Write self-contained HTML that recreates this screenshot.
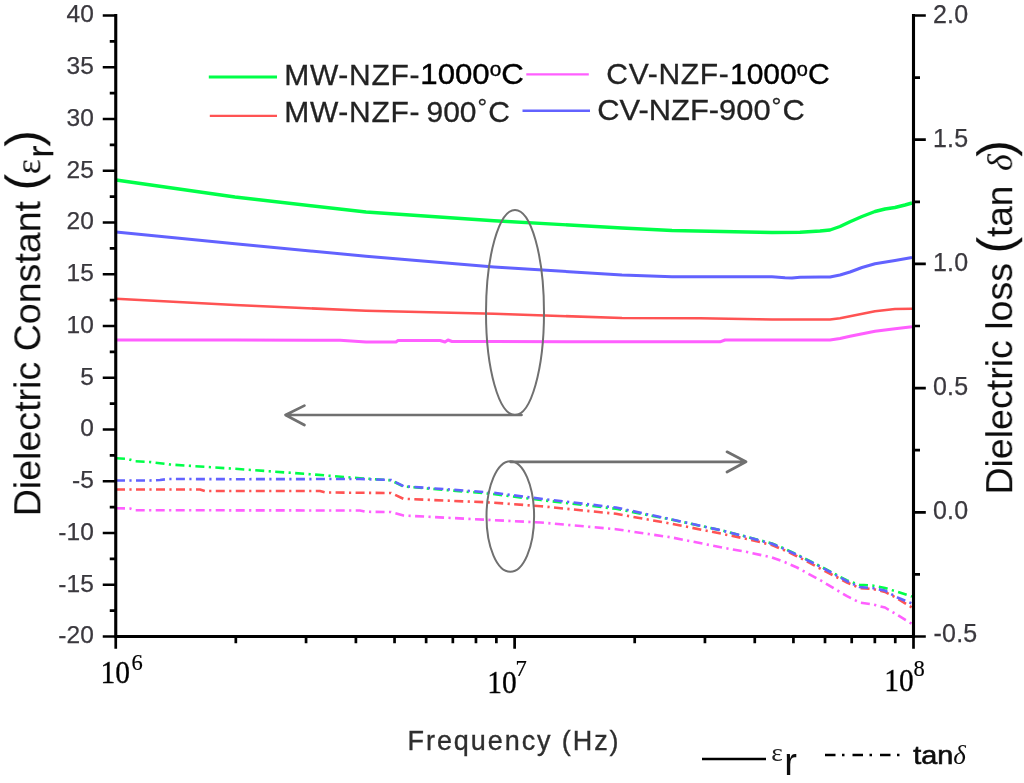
<!DOCTYPE html>
<html><head><meta charset="utf-8"><title>Dielectric constant and loss vs frequency</title>
<style>
html,body{margin:0;padding:0;background:#fff;}
body{width:1024px;height:783px;overflow:hidden;}
svg{display:block;}
.sans{font-family:"Liberation Sans",Arial,Helvetica,sans-serif;}
.serif{font-family:"Liberation Serif","Times New Roman",Times,serif;}
.tick{font-size:24.5px;fill:#3a383e;stroke:#3a383e;stroke-width:0.25px;letter-spacing:0.2px;}
</style></head><body>
<svg width="1024" height="783" viewBox="0 0 1024 783">
<rect x="0" y="0" width="1024" height="783" fill="#ffffff"/>
<defs><filter id="soft" x="-2%" y="-2%" width="104%" height="104%"><feGaussianBlur stdDeviation="0.7"/></filter></defs>
<g filter="url(#soft)">

<g fill="none" stroke-linejoin="round">
<polyline points="116.0,340.0 235.0,340.0 340.0,340.3 366.0,342.0 396.0,342.0 398.0,340.5 440.0,340.5 445.0,342.0 448.0,340.0 452.0,341.5 494.0,341.5 622.0,341.8 720.0,341.8 725.0,340.0 830.0,340.0 840.0,338.5 850.0,336.2 875.0,331.2 895.0,328.8 912.0,326.8" stroke="#ff5eff" stroke-width="3.0"/>
<polyline points="116.0,298.8 235.0,305.0 366.0,310.8 494.0,313.8 622.0,318.0 700.0,318.2 772.0,319.5 830.0,319.5 840.0,318.2 850.0,316.2 875.0,311.2 895.0,309.0 912.0,308.8" stroke="#ff5252" stroke-width="2.6"/>
<polyline points="116.0,232.0 235.0,243.8 366.0,256.2 494.0,267.0 622.0,275.0 672.0,276.8 772.0,276.8 785.0,277.8 792.0,278.0 800.0,277.3 830.0,277.0 840.0,275.0 850.0,272.0 862.0,267.5 875.0,263.8 895.0,260.5 912.0,257.5" stroke="#6262ff" stroke-width="3.0"/>
<polyline points="116.0,180.0 235.0,197.0 366.0,212.0 494.0,220.8 622.0,228.0 672.0,230.5 722.0,231.5 772.0,232.5 800.0,232.3 820.0,231.0 830.0,230.0 840.0,226.5 850.0,221.8 862.0,216.5 875.0,211.5 885.0,209.0 895.0,207.5 905.0,205.0 912.0,203.0" stroke="#00ff48" stroke-width="3.4"/>
<polyline points="116.0,508.2 130.0,508.5 135.0,510.2 360.0,510.5 366.0,511.8 391.0,512.0 403.5,515.5 491.0,520.0 541.0,522.5 616.0,529.2 672.0,537.5 722.0,547.5 747.0,552.0 772.0,557.5 784.5,562.0 797.0,567.5 822.0,581.2 847.0,596.2 859.5,602.5 872.5,604.4 885.0,607.5 897.5,615.0 912.0,624.0" stroke="#ff5eff" stroke-width="2.6" stroke-dasharray="9 4.4 2.2 4.4"/>
<polyline points="116.0,489.5 200.0,489.5 205.0,491.0 320.0,491.0 326.0,492.5 391.0,493.0 403.5,498.8 491.0,502.5 541.0,506.2 616.0,513.8 672.0,523.8 722.0,533.8 747.0,539.0 772.0,545.0 784.5,550.3 797.0,556.2 822.0,569.5 847.0,582.5 859.5,588.0 872.5,589.0 885.0,591.9 897.5,598.5 912.0,607.5" stroke="#ff5252" stroke-width="2.6" stroke-dasharray="9 4.4 2.2 4.4"/>
<polyline points="116.0,458.2 128.0,459.0 135.0,461.2 150.0,462.0 160.0,463.2 170.0,464.5 235.0,468.8 310.0,474.2 360.0,478.2 391.0,480.3 403.5,486.5 491.0,493.8 541.0,500.0 616.0,508.8 672.0,519.7 722.0,530.5 747.0,536.8 772.0,543.5 784.5,548.6 797.0,554.5 822.0,567.0 847.0,580.5 859.5,584.8 872.5,585.6 885.0,588.0 897.5,591.9 912.0,596.5" stroke="#00ff48" stroke-width="2.6" stroke-dasharray="9 4.4 2.2 4.4"/>
<polyline points="116.0,480.5 150.0,480.5 160.0,480.0 168.0,479.0 235.0,479.2 360.0,479.0 391.0,480.0 403.5,486.2 491.0,492.5 541.0,498.8 616.0,507.5 672.0,519.5 722.0,530.5 747.0,537.0 772.0,543.8 784.5,549.0 797.0,555.0 822.0,567.5 847.0,581.2 859.5,587.0 872.5,588.1 885.0,590.6 897.5,597.5 912.0,603.5" stroke="#6262ff" stroke-width="2.6" stroke-dasharray="9 4.4 2.2 4.4"/>
</g>
<g fill="none" stroke="#707070" stroke-linecap="round" stroke-linejoin="round">
<ellipse cx="515" cy="312.5" rx="29" ry="102.5" stroke-width="2"/>
<ellipse cx="510.3" cy="516.5" rx="23.8" ry="55.3" stroke-width="2"/>
<path d="M521.5 415 H286 M304.4 405.6 L285.5 415 L304.4 425" stroke-width="2.7"/>
<path d="M510.5 461.8 H745.5 M727 451.8 L746 461.8 L727 472" stroke-width="2.7"/>
</g>
<g stroke="#000" fill="none" stroke-linecap="butt">
<path d="M115.75 13.95 V638.05 M913.5 13.95 V638.05 M115.75 636.5 H913.5" stroke-width="3.1"/>
<path d="M102.75 15.50 H115.75 M109.75 41.38 H115.75 M102.75 67.25 H115.75 M109.75 93.12 H115.75 M102.75 119.00 H115.75 M109.75 144.88 H115.75 M102.75 170.75 H115.75 M109.75 196.62 H115.75 M102.75 222.50 H115.75 M109.75 248.38 H115.75 M102.75 274.25 H115.75 M109.75 300.12 H115.75 M102.75 326.00 H115.75 M109.75 351.88 H115.75 M102.75 377.75 H115.75 M109.75 403.62 H115.75 M102.75 429.50 H115.75 M109.75 455.38 H115.75 M102.75 481.25 H115.75 M109.75 507.12 H115.75 M102.75 533.00 H115.75 M109.75 558.88 H115.75 M102.75 584.75 H115.75 M109.75 610.62 H115.75 M102.75 636.50 H115.75 M913.5 15.50 H925.8 M913.5 77.60 H920.0 M913.5 139.70 H925.8 M913.5 201.80 H920.0 M913.5 263.90 H925.8 M913.5 326.00 H920.0 M913.5 388.10 H925.8 M913.5 450.20 H920.0 M913.5 512.30 H925.8 M913.5 574.40 H920.0 M913.5 636.50 H925.8 M115.75 636.5 V648.8 M235.82 636.5 V643.3 M306.06 636.5 V643.3 M355.90 636.5 V643.3 M394.55 636.5 V643.3 M426.14 636.5 V643.3 M452.84 636.5 V643.3 M475.97 636.5 V643.3 M496.37 636.5 V643.3 M514.62 636.5 V648.8 M634.70 636.5 V643.3 M704.94 636.5 V643.3 M754.77 636.5 V643.3 M793.43 636.5 V643.3 M825.01 636.5 V643.3 M851.71 636.5 V643.3 M874.85 636.5 V643.3 M895.25 636.5 V643.3 M913.50 636.5 V648.8" stroke-width="2.7"/>
</g>
<g class="sans tick" text-anchor="end">
<text x="94.2" y="22.4">40</text>
<text x="94.2" y="74.2">35</text>
<text x="94.2" y="125.9">30</text>
<text x="94.2" y="177.7">25</text>
<text x="94.2" y="229.4">20</text>
<text x="94.2" y="281.1">15</text>
<text x="94.2" y="332.9">10</text>
<text x="94.2" y="384.6">5</text>
<text x="94.2" y="436.4">0</text>
<text x="94.2" y="488.1">-5</text>
<text x="94.2" y="539.9">-10</text>
<text x="94.2" y="591.6">-15</text>
<text x="94.2" y="643.4">-20</text>
</g>
<g class="sans tick" text-anchor="start">
<text x="933" y="23.3" font-size="25">2.0</text>
<text x="933" y="147.1" font-size="25">1.5</text>
<text x="933" y="271.0" font-size="25">1.0</text>
<text x="933" y="394.8" font-size="25">0.5</text>
<text x="933" y="518.6" font-size="25">0.0</text>
<text x="933.6" y="642.4" font-size="25">-0.5</text>
</g>
<text class="serif" x="100.6" y="683.2" font-size="32" fill="#000" stroke="#000" stroke-width="0.3" textLength="29.5" lengthAdjust="spacingAndGlyphs">10</text><text class="serif" x="131.6" y="670" font-size="22.5" fill="#000" stroke="#000" stroke-width="0.2">6</text>
<text class="serif" x="487.3" y="692.5" font-size="32" fill="#000" stroke="#000" stroke-width="0.3" textLength="29.5" lengthAdjust="spacingAndGlyphs">10</text><text class="serif" x="515.6" y="675.6" font-size="22.5" fill="#000" stroke="#000" stroke-width="0.2">7</text>
<text class="serif" x="884.2" y="691" font-size="32" fill="#000" stroke="#000" stroke-width="0.3" textLength="29.5" lengthAdjust="spacingAndGlyphs">10</text><text class="serif" x="913.6" y="676" font-size="22.5" fill="#000" stroke="#000" stroke-width="0.2">8</text>
<text class="sans" x="407.6" y="750" font-size="27" fill="#2e2e2e" stroke="#2e2e2e" stroke-width="0.35" textLength="211" lengthAdjust="spacing">Frequency (Hz)</text>
<g fill="none"><path d="M208.8 77 H277" stroke="#00ff48" stroke-width="3"/><path d="M209.8 115.8 H277" stroke="#ff5252" stroke-width="2.2"/><path d="M526.3 74.3 H588.8" stroke="#ff5eff" stroke-width="2.2"/><path d="M522.5 110.8 H590" stroke="#6262ff" stroke-width="2.6"/></g>
<g class="sans" font-size="30" fill="#222" stroke="#222" stroke-width="0.3">
<text x="284.2" y="84.6" letter-spacing="0.7">MW-NZF-</text>
<text x="420.3" y="84.2" fill="#000" stroke="#000" stroke-width="0.4" textLength="103.5" lengthAdjust="spacingAndGlyphs">1000<tspan font-size="20" dy="-8">o</tspan><tspan dy="8">C</tspan></text>
<text x="284.2" y="121.6" letter-spacing="0.7">MW-NZF-</text>
<text x="426.5" y="121.6">900<tspan font-size="24" dy="-6.5" dx="1">°</tspan><tspan dy="6.5" dx="1">C</tspan></text>
<text x="606.3" y="84" letter-spacing="0.7">CV-NZF-</text>
<text x="730" y="84" fill="#000" stroke="#000" stroke-width="0.4">1000<tspan font-size="20" dy="-8">o</tspan><tspan dy="8">C</tspan></text>
<text x="597.3" y="120.4" textLength="207.5" lengthAdjust="spacingAndGlyphs">CV-NZF-900<tspan font-size="24" dy="-6.5" dx="1">°</tspan><tspan dy="6.5" dx="1">C</tspan></text>
</g>
<g transform="translate(40.3,0) rotate(-90)" fill="#111">
<text class="sans" x="-516.3" y="0" font-size="37.6">Dielectric Constant</text>
<text class="sans" x="-190.5" y="0" font-size="50">(</text>
<text class="serif" x="-174.2" y="0" font-size="36">ε</text>
<text class="sans" x="-157.8" y="13" font-size="37">r</text>
<text class="sans" x="-146.8" y="0" font-size="50">)</text>
</g>
<g transform="translate(1012.2,0) rotate(-90)" fill="#111">
<text class="sans" x="-494.6" y="0" font-size="37.55">Dielectric loss</text>
<text class="sans" x="-253.4" y="0" font-size="50">(</text>
<text class="sans" x="-237" y="0" font-size="37">tan</text>
<text class="serif" x="-171" y="0" font-size="36" font-style="italic">δ</text>
<text class="sans" x="-156.8" y="0" font-size="50">)</text>
</g>
<path d="M702 759 H766" stroke="#000" stroke-width="2.6" fill="none"/>
<text class="serif" x="771.3" y="760.8" font-size="26" fill="#222" textLength="11.5" lengthAdjust="spacingAndGlyphs">ε</text>
<text class="sans" x="784.3" y="774.6" font-size="38" fill="#111">r</text>
<path d="M825 755 H904" stroke="#000" stroke-width="2.6" stroke-dasharray="10.5 6.5 2.5 8" fill="none"/>
<text class="sans" x="913.3" y="763.6" font-size="25" fill="#111" stroke="#111" stroke-width="0.6" textLength="40" lengthAdjust="spacingAndGlyphs">tan</text>
<text class="serif" x="953.3" y="763.6" font-size="27" font-style="italic" fill="#111">δ</text>
</g></svg></body></html>
